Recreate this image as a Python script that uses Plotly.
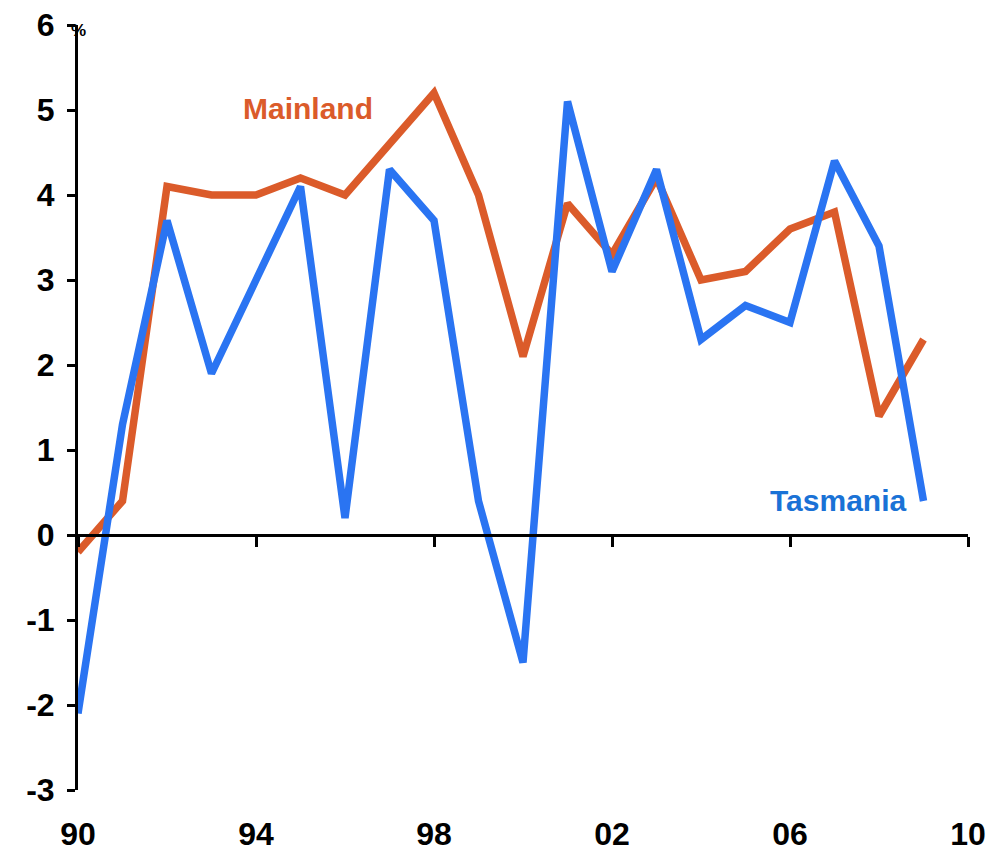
import plotly.graph_objects as go

# Annual growth, per cent
years = list(range(1990, 2010))
mainland = [-0.2, 0.4, 4.1, 4.0, 4.0, 4.2, 4.0, 4.6, 5.2, 4.0,
            2.1, 3.9, 3.3, 4.2, 3.0, 3.1, 3.6, 3.8, 1.4, 2.3]
tasmania = [-2.1, 1.3, 3.7, 1.9, 3.0, 4.1, 0.2, 4.3, 3.7, 0.4,
            -1.5, 5.1, 3.1, 4.3, 2.3, 2.7, 2.5, 4.4, 3.4, 0.4]

x_ticks = [1990, 1994, 1998, 2002, 2006, 2010]
x_tick_text = ["90", "94", "98", "02", "06", "10"]
y_ticks = [-3, -2, -1, 0, 1, 2, 3, 4, 5, 6]
y_tick_text = ["-3", "-2", "-1", "0", "1", "2", "3", "4", "5", "6"]

ORANGE = "#DB5B2A"
BLUE = "#2A74F2"
FONT = "Arial, Liberation Sans, sans-serif"
TICK_FONT = dict(family=FONT, size=32, color="black", weight="bold")

fig = go.Figure()
fig.add_trace(go.Scatter(x=years, y=mainland, mode="lines", name="Mainland",
                         line=dict(color=ORANGE, width=7.5), cliponaxis=False))
fig.add_trace(go.Scatter(x=years, y=tasmania, mode="lines", name="Tasmania",
                         line=dict(color=BLUE, width=7.5), cliponaxis=False))

fig.add_annotation(x=1995.17, y=5.02, text="Mainland", showarrow=False,
                   font=dict(family=FONT, size=30, color=ORANGE, weight="bold"))
fig.add_annotation(x=2007.08, y=0.41, text="Tasmania", showarrow=False,
                   font=dict(family=FONT, size=30, color="#1A72D6", weight="bold"))
fig.add_annotation(x=0, xref="paper", y=5.93, yref="y", text="%", showarrow=False,
                   xanchor="center", yanchor="middle",
                   font=dict(family=FONT, size=17, color="black", weight="bold"))

fig.update_layout(
    width=1002, height=853,
    margin=dict(l=78, r=34, t=25, b=63),
    paper_bgcolor="white", plot_bgcolor="white",
    showlegend=False,
    font=dict(family=FONT, size=30, color="black"),
    xaxis=dict(range=[1990, 2010], tickvals=x_ticks, ticktext=x_tick_text,
               showline=False, showgrid=False, zeroline=False, ticks="",
               tickfont=TICK_FONT, ticklabelstandoff=22, automargin=False),
    xaxis2=dict(range=[1990, 2010], overlaying="x", anchor="free", position=1/3,
                side="bottom", tickvals=x_ticks, showticklabels=False,
                showline=True, linecolor="black", linewidth=3,
                ticks="outside", ticklen=10, tickwidth=3, tickcolor="black",
                showgrid=False, zeroline=False, automargin=False),
    yaxis=dict(range=[-3, 6], tickvals=y_ticks, ticktext=y_tick_text,
               showgrid=False, zeroline=False,
               showline=True, linecolor="black", linewidth=3,
               ticks="outside", ticklen=8, tickwidth=3, tickcolor="black",
               tickfont=TICK_FONT, ticklabelstandoff=6, automargin=False),
)
# keep the overlaid axis alive with an invisible trace
fig.add_trace(go.Scatter(x=[1990, 2010], y=[0, 0], xaxis="x2", mode="lines",
                         line=dict(width=0), hoverinfo="skip", showlegend=False))

fig.write_html("out.html")
